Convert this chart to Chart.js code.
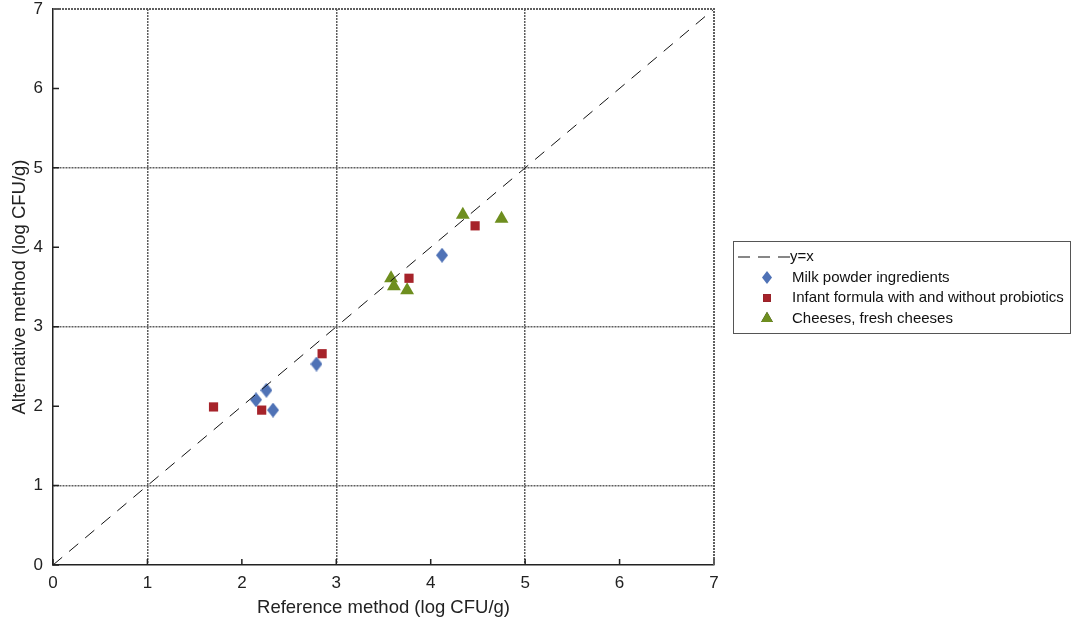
<!DOCTYPE html>
<html>
<head>
<meta charset="utf-8">
<script src="https://cdn.jsdelivr.net/npm/chart.js@4/dist/chart.umd.min.js"></script>
<style>
  html, body { margin: 0; padding: 0; background: #fff; }
  #wrap { width: 1074px; height: 622px; }
</style>
</head>
<body>
<div id="wrap"><canvas id="chart" width="1074" height="622"></canvas></div>
<script>
// log CFU/g, reference method (x) vs alternative method (y)
const milkX = [2.15, 2.26, 2.33, 2.79, 4.12];
const milkY = [2.08, 2.20, 1.95, 2.53, 3.90];

const infantX = [1.70, 2.21, 2.85, 3.77, 4.47];
const infantY = [1.99, 1.95, 2.66, 3.61, 4.27];

const cheeseX = [3.58, 3.61, 3.75, 4.34, 4.75];
const cheeseY = [3.61, 3.51, 3.46, 4.41, 4.36];

const identityLine = [0, 7];
const axisTicks = [0, 1, 2, 3, 4, 5, 6, 7];
const gridValues = [1, 3, 5];

const seriesNames = ["y=x", "Milk powder ingredients", "Infant formula with and without probiotics", "Cheeses, fresh cheeses"];

const toPoints = (xs, ys) => xs.map((x, i) => ({ x: x, y: ys[i] }));

const FONT = "'Liberation Sans', Arial, sans-serif";

// tall diamond marker (a bit narrower than rectRot)
function makeDiamond(w, h, color) {
    const c = document.createElement("canvas");
    c.width = w;
    c.height = h;
    const g = c.getContext("2d");
    g.fillStyle = color;
    g.beginPath();
    g.moveTo(w / 2, 0);
    g.lineTo(w, h / 2);
    g.lineTo(w / 2, h);
    g.lineTo(0, h / 2);
    g.closePath();
    g.fill();
    return c;
}
const diamond = makeDiamond(12, 15, "#4f72b6");
const diamondSmall = makeDiamond(10, 13, "#4f72b6");

// grid only on 1, 3, 5
function gridColor(ctx) {
    if (ctx.tick && gridValues.includes(ctx.tick.value)) return "#5e5e5e";
    return "rgba(0,0,0,0)";
}

// inward tick marks + dotted top/right frame
const framePlugin = {
    id: "frame",
    afterDatasetsDraw(chart) {
        const { ctx, chartArea: a, scales } = chart;
        ctx.save();
        ctx.strokeStyle = "#222";
        ctx.lineWidth = 1.5;
        ctx.beginPath();
        axisTicks.forEach(v => {
            const px = scales.x.getPixelForValue(v);
            const py = scales.y.getPixelForValue(v);
            ctx.moveTo(px, a.bottom);
            ctx.lineTo(px, a.bottom - 6);
            ctx.moveTo(a.left, py);
            ctx.lineTo(a.left + 6, py);
        });
        ctx.stroke();

        ctx.strokeStyle = "#5e5e5e";
        ctx.lineWidth = 2;
        ctx.setLineDash([2, 1]);
        ctx.beginPath();
        ctx.moveTo(a.left, a.top);
        ctx.lineTo(a.right, a.top);
        ctx.lineTo(a.right, a.bottom);
        ctx.stroke();
        ctx.restore();
    }
};

// boxed legend to the right of the plot
const legendPlugin = {
    id: "boxLegend",
    afterDraw(chart) {
        const { ctx } = chart;
        const boxX = 733, boxY = 241, boxW = 337, boxH = 92;
        ctx.save();
        ctx.strokeStyle = "#555";
        ctx.lineWidth = 1;
        ctx.strokeRect(boxX + 0.5, boxY + 0.5, boxW, boxH);

        ctx.font = "15px " + FONT;
        ctx.fillStyle = "#111";
        ctx.textBaseline = "middle";

        chart.data.datasets.forEach((ds, i) => {
            const y = boxY + 16 + i * 20.5;
            if (ds.type === "line") {
                ctx.strokeStyle = ds.borderColor;
                ctx.lineWidth = 1.2;
                ctx.setLineDash([12, 8]);
                ctx.beginPath();
                ctx.moveTo(boxX + 5, y);
                ctx.lineTo(boxX + 57, y);
                ctx.stroke();
                ctx.setLineDash([]);
                ctx.fillText(ds.label, boxX + 57, y);
            } else if (ds.pointStyle === diamond) {
                ctx.drawImage(diamondSmall, boxX + 34 - 5, y - 6.5);
                ctx.fillText(ds.label, boxX + 59, y);
            } else {
                Chart.helpers.drawPoint(ctx, {
                    pointStyle: ds.pointStyle,
                    radius: ds.pointRadius * 0.85,
                    rotation: 0,
                    borderWidth: 0
                }, boxX + 34, y);
                ctx.fillStyle = ds.backgroundColor;
                ctx.fill();
                ctx.fillStyle = "#111";
                ctx.fillText(ds.label, boxX + 59, y);
            }
        });
        ctx.restore();
    }
};

new Chart(document.getElementById("chart"), {
    type: "scatter",
    data: {
        datasets: [
            {
                type: "line",
                label: seriesNames[0],
                data: toPoints(identityLine, identityLine),
                borderColor: "#111",
                borderWidth: 1,
                borderDash: [12, 9],
                pointRadius: 0,
                fill: false
            },
            {
                label: seriesNames[1],
                data: toPoints(milkX, milkY),
                pointStyle: diamond,
                pointRadius: 8,
                backgroundColor: "#4f72b6",
                borderWidth: 0
            },
            {
                label: seriesNames[2],
                data: toPoints(infantX, infantY),
                pointStyle: "rect",
                pointRadius: 6.5,
                backgroundColor: "#a6232a",
                borderWidth: 0
            },
            {
                label: seriesNames[3],
                data: toPoints(cheeseX, cheeseY),
                pointStyle: "triangle",
                pointRadius: 8,
                backgroundColor: "#6e8e1f",
                borderWidth: 0
            }
        ]
    },
    options: {
        responsive: false,
        animation: false,
        events: [],
        layout: { padding: { top: 9, right: 360, left: 0, bottom: 0 } },
        plugins: {
            legend: { display: false },
            tooltip: { enabled: false }
        },
        scales: {
            x: {
                type: "linear",
                min: 0,
                max: 7,
                afterFit: s => { s.height = 57; s.paddingLeft = 0; s.paddingRight = 0; },
                afterBuildTicks: s => { s.ticks = axisTicks.map(v => ({ value: v })); },
                grid: { color: gridColor, lineWidth: 1.5, drawTicks: false },
                border: { display: true, color: "#222", width: 1.5, dash: [2, 1] },
                ticks: { color: "#222", padding: 8, font: { family: FONT, size: 17 } },
                title: {
                    display: true,
                    text: "Reference method (log CFU/g)",
                    color: "#222",
                    font: { family: FONT, size: 18.5 },
                    padding: { top: 0, bottom: 3 }
                }
            },
            y: {
                type: "linear",
                min: 0,
                max: 7,
                afterFit: s => { s.width = 53; s.paddingTop = 0; s.paddingBottom = 0; },
                afterBuildTicks: s => { s.ticks = axisTicks.map(v => ({ value: v })); },
                grid: { color: gridColor, lineWidth: 1.5, drawTicks: false },
                border: { display: true, color: "#222", width: 1.5, dash: [2, 1] },
                ticks: { color: "#222", padding: 10, font: { family: FONT, size: 17 } },
                title: {
                    display: true,
                    text: "Alternative method (log CFU/g)",
                    color: "#222",
                    font: { family: FONT, size: 18.5 },
                    padding: { top: 9, bottom: 0 }
                }
            }
        }
    },
    plugins: [framePlugin, legendPlugin]
});
</script>
</body>
</html>
